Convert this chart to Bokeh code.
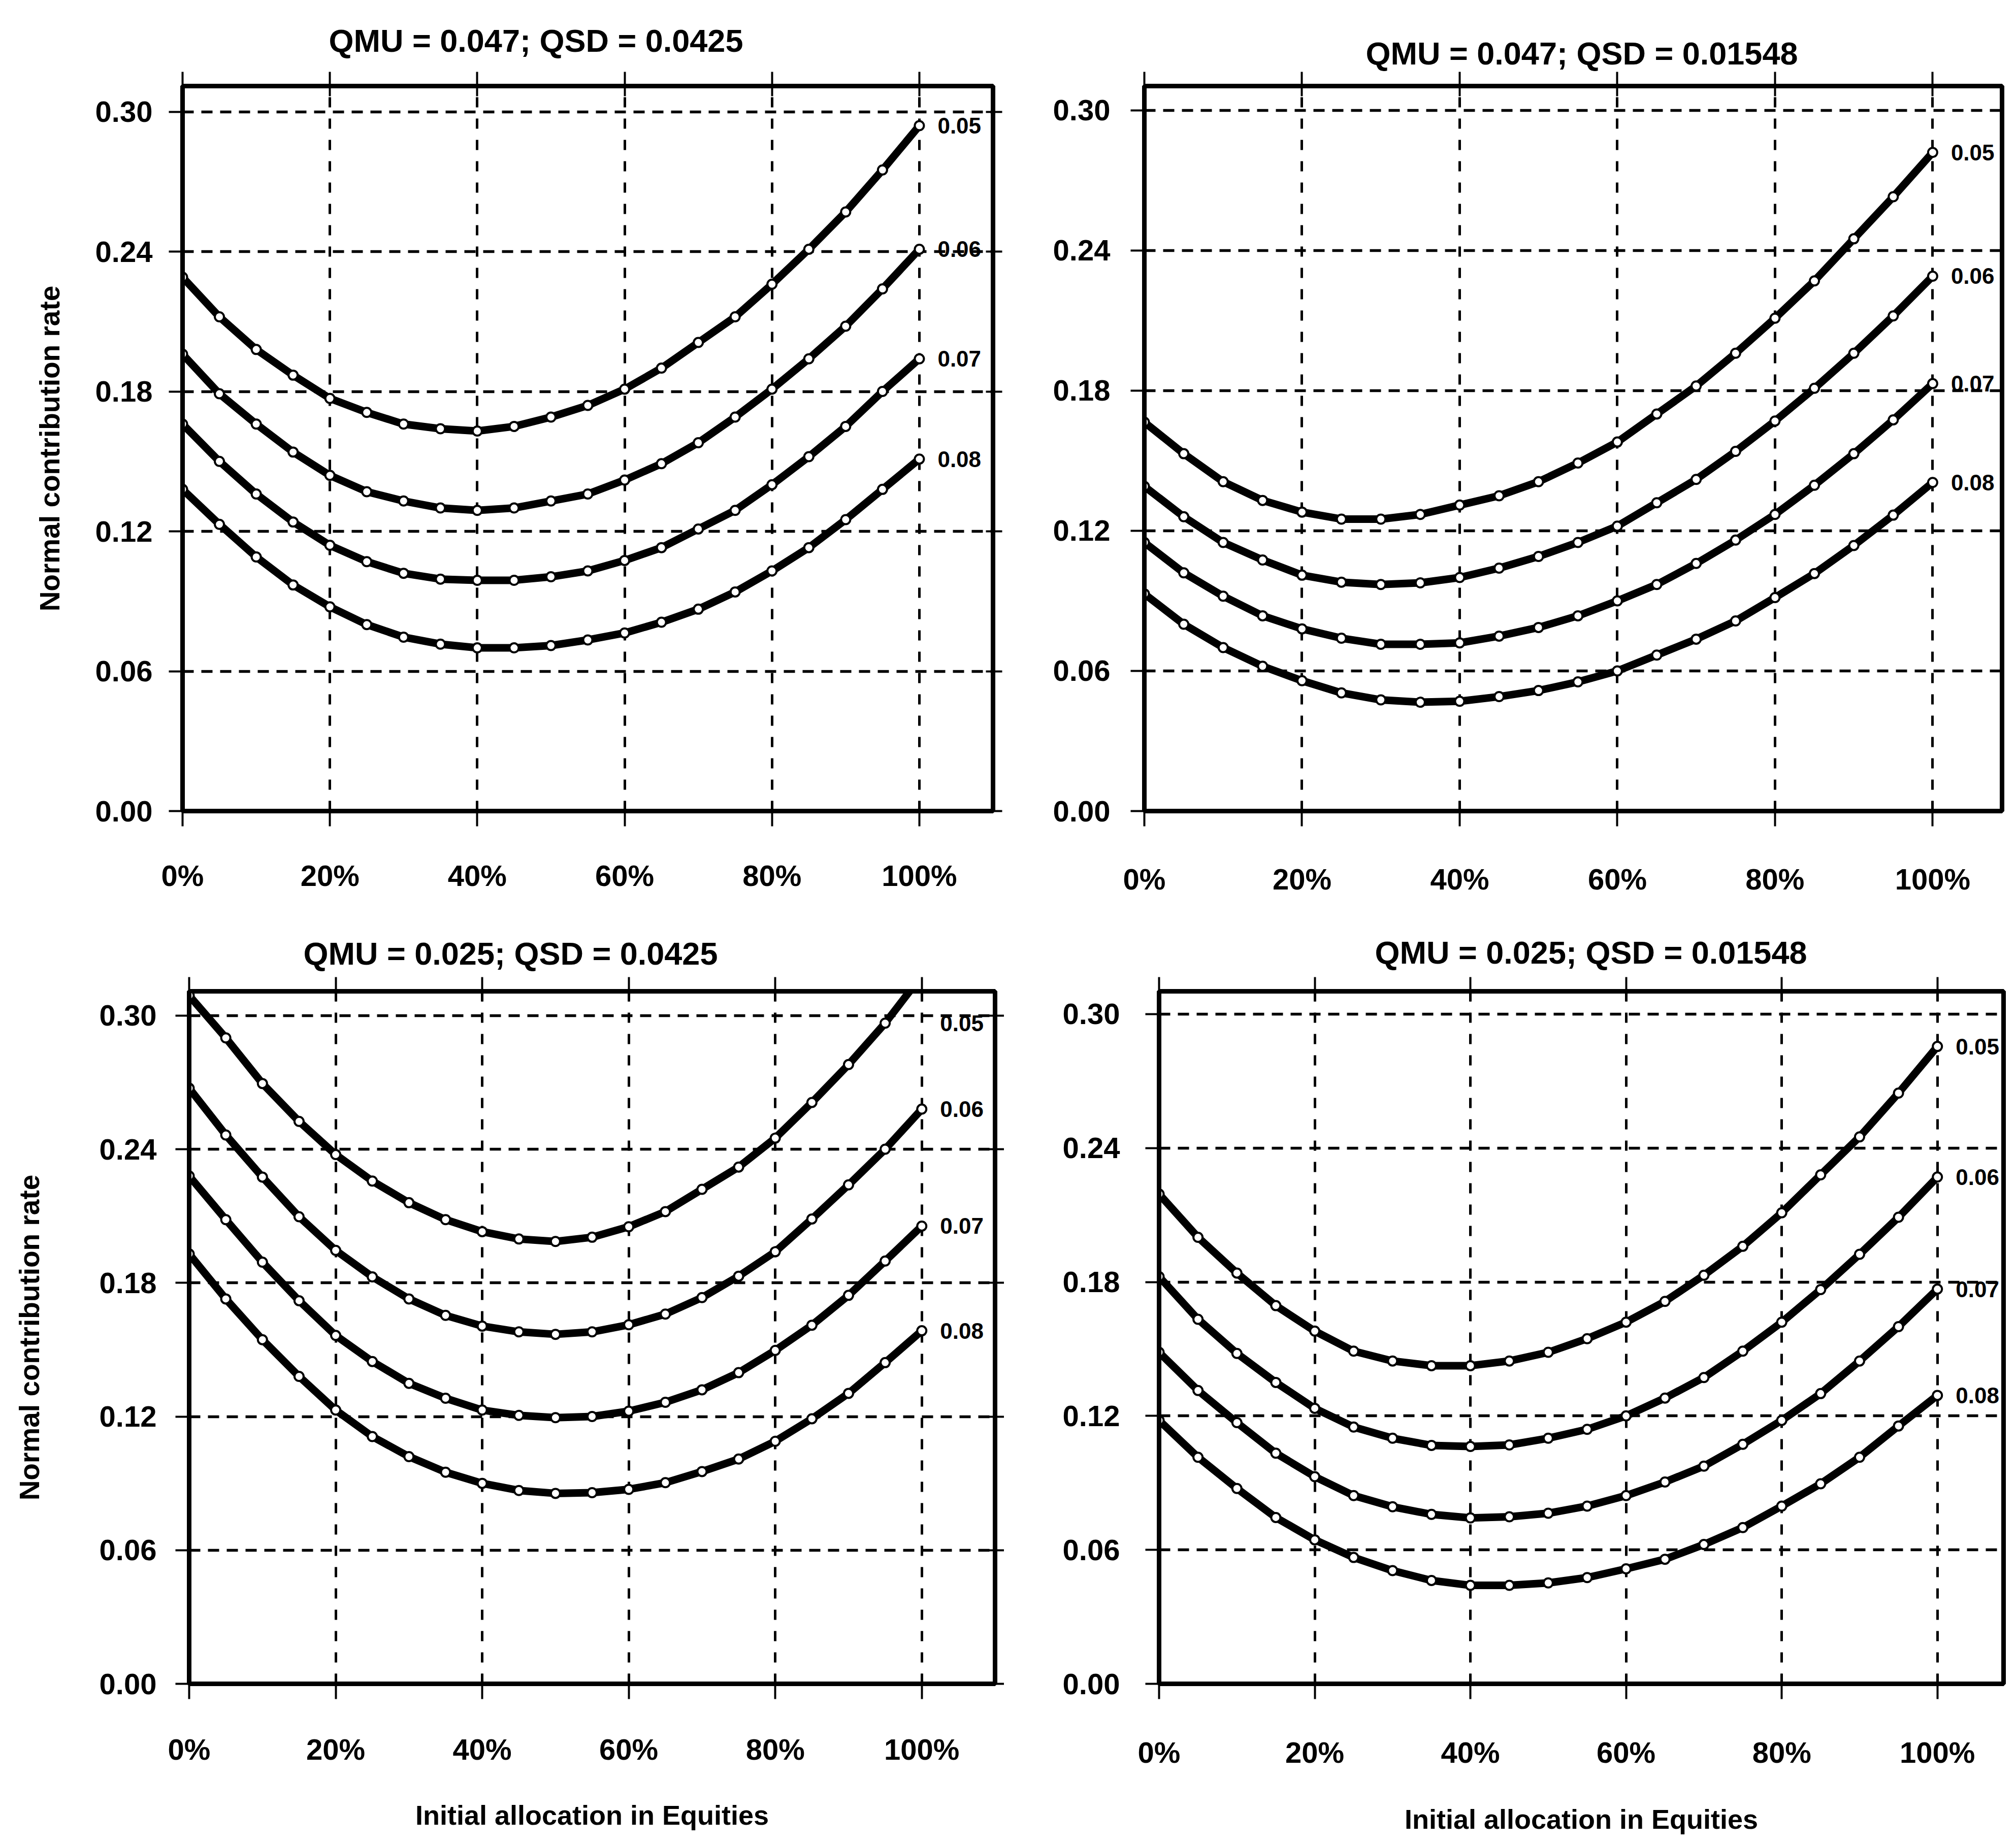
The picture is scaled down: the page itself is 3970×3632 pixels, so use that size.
from bokeh.plotting import figure
from bokeh.layouts import column, row
from bokeh.models import FixedTicker, LinearAxis, Range1d
from bokeh.core.properties import value
from bokeh.embed import file_html
from bokeh.resources import INLINE

# ---------------- data ----------------
x_alloc = [0, 5, 10, 15, 20, 25, 30, 35, 40, 45, 50, 55, 60, 65, 70, 75, 80, 85, 90, 95, 100]
x_ticks = [0, 20, 40, 60, 80, 100]
x_tick_labels = ["0%", "20%", "40%", "60%", "80%", "100%"]
y_ticks = [0.0, 0.06, 0.12, 0.18, 0.24, 0.30]
y_tick_labels = ["0.00", "0.06", "0.12", "0.18", "0.24", "0.30"]
rate_labels = ["0.05", "0.06", "0.07", "0.08"]

panel_titles = [
    "QMU = 0.047; QSD = 0.0425",
    "QMU = 0.047; QSD = 0.01548",
    "QMU = 0.025; QSD = 0.0425",
    "QMU = 0.025; QSD = 0.01548",
]
y_axis_title = "Normal contribution rate"
x_axis_title = "Initial allocation in Equities"

# QMU = 0.047; QSD = 0.0425
tl_r05 = [0.229, 0.212, 0.198, 0.187, 0.177, 0.171, 0.166, 0.164, 0.163, 0.165, 0.169, 0.174, 0.181, 0.190, 0.201, 0.212, 0.226, 0.241, 0.257, 0.275, 0.294]
tl_r06 = [0.196, 0.179, 0.166, 0.154, 0.144, 0.137, 0.133, 0.130, 0.129, 0.130, 0.133, 0.136, 0.142, 0.149, 0.158, 0.169, 0.181, 0.194, 0.208, 0.224, 0.241]
tl_r07 = [0.166, 0.150, 0.136, 0.124, 0.114, 0.107, 0.102, 0.0995, 0.099, 0.099, 0.1005, 0.103, 0.1075, 0.113, 0.121, 0.129, 0.140, 0.152, 0.165, 0.180, 0.194]
tl_r08 = [0.138, 0.123, 0.109, 0.097, 0.0876, 0.080, 0.0746, 0.0716, 0.070, 0.070, 0.071, 0.0734, 0.0764, 0.081, 0.0866, 0.094, 0.103, 0.113, 0.125, 0.138, 0.151]

# QMU = 0.047; QSD = 0.01548
tr_r05 = [0.1665, 0.153, 0.141, 0.133, 0.128, 0.125, 0.125, 0.127, 0.131, 0.135, 0.141, 0.149, 0.158, 0.170, 0.182, 0.196, 0.211, 0.227, 0.245, 0.263, 0.282]
tr_r06 = [0.139, 0.126, 0.115, 0.1075, 0.101, 0.098, 0.097, 0.0977, 0.100, 0.104, 0.109, 0.115, 0.122, 0.132, 0.142, 0.154, 0.167, 0.181, 0.196, 0.212, 0.229]
tr_r07 = [0.115, 0.102, 0.092, 0.0836, 0.078, 0.074, 0.0714, 0.0714, 0.072, 0.0749, 0.0786, 0.0836, 0.090, 0.097, 0.106, 0.116, 0.127, 0.1395, 0.153, 0.1675, 0.183]
tr_r08 = [0.093, 0.080, 0.070, 0.062, 0.0558, 0.0506, 0.0476, 0.0466, 0.047, 0.049, 0.0516, 0.0553, 0.060, 0.0668, 0.0736, 0.0814, 0.0914, 0.1017, 0.1137, 0.1267, 0.1407]

# QMU = 0.025; QSD = 0.0425
bl_r05 = [0.309, 0.290, 0.2695, 0.2525, 0.2376, 0.2257, 0.216, 0.2084, 0.203, 0.1997, 0.1986, 0.2005, 0.2052, 0.212, 0.222, 0.232, 0.245, 0.261, 0.278, 0.2966, 0.318]
bl_r06 = [0.2674, 0.2464, 0.2275, 0.2097, 0.1946, 0.1827, 0.1728, 0.1654, 0.1606, 0.158, 0.1569, 0.158, 0.1612, 0.166, 0.1734, 0.183, 0.194, 0.2087, 0.224, 0.240, 0.258]
bl_r07 = [0.228, 0.2084, 0.1893, 0.172, 0.1564, 0.1447, 0.1349, 0.1282, 0.1229, 0.1205, 0.1195, 0.120, 0.1224, 0.1264, 0.132, 0.1397, 0.1497, 0.161, 0.1744, 0.1898, 0.2055]
bl_r08 = [0.193, 0.1728, 0.1545, 0.138, 0.1229, 0.111, 0.102, 0.095, 0.090, 0.0868, 0.0855, 0.0858, 0.0873, 0.0903, 0.0953, 0.1009, 0.1089, 0.119, 0.1304, 0.1442, 0.1585]

# QMU = 0.025; QSD = 0.01548
br_r05 = [0.2194, 0.200, 0.184, 0.1694, 0.158, 0.149, 0.1446, 0.1425, 0.1425, 0.1446, 0.1485, 0.1546, 0.162, 0.1713, 0.183, 0.196, 0.211, 0.228, 0.245, 0.2646, 0.2855]
br_r06 = [0.1824, 0.1633, 0.148, 0.135, 0.1234, 0.115, 0.110, 0.1068, 0.1063, 0.107, 0.110, 0.114, 0.120, 0.128, 0.1372, 0.149, 0.162, 0.1766, 0.1924, 0.209, 0.227]
br_r07 = [0.1485, 0.1314, 0.117, 0.1033, 0.0928, 0.0843, 0.0793, 0.0759, 0.0743, 0.0748, 0.0764, 0.0796, 0.0843, 0.0904, 0.0975, 0.1073, 0.118, 0.130, 0.1446, 0.160, 0.1768]
br_r08 = [0.118, 0.1015, 0.0875, 0.0745, 0.0645, 0.0566, 0.0507, 0.0463, 0.0441, 0.0441, 0.0452, 0.0476, 0.0515, 0.0558, 0.0624, 0.070, 0.0796, 0.0896, 0.1015, 0.1155, 0.1292]

# ---------------- styling / layout ----------------
FONT = "Liberation Sans"
W, H = 1977, 1808

layouts = [
    dict(ml=359, mr=22, mt=162, mb=211, xmax=110.0, ymax=0.311, t_off=288, t_stand=53,
         ylab_stand=32, xlab_stand=64, ytitle=True, ytitle_stand=56, xtitle=False, right_ticks=True),
    dict(ml=276, mr=12, mt=169, mb=211, xmax=108.8, ymax=0.3104, t_off=436, t_stand=4,
         ylab_stand=40, xlab_stand=71, ytitle=False, ytitle_stand=0, xtitle=False, right_ticks=False),
    dict(ml=372, mr=18, mt=144, mb=292, xmax=110.0, ymax=0.3109, t_off=225, t_stand=23,
         ylab_stand=37, xlab_stand=66, ytitle=True, ytitle_stand=104, xtitle=True, xtitle_stand=64, right_ticks=True),
    dict(ml=305, mr=9, mt=134, mb=300, xmax=108.5, ymax=0.3102, t_off=425, t_stand=28,
         ylab_stand=50, xlab_stand=72, ytitle=False, ytitle_stand=0, xtitle=True, xtitle_stand=66, right_ticks=False),
]

panel_series = [
    [tl_r05, tl_r06, tl_r07, tl_r08],
    [tr_r05, tr_r06, tr_r07, tr_r08],
    [bl_r05, bl_r06, bl_r07, bl_r08],
    [br_r05, br_r06, br_r07, br_r08],
]


def style_ticks(ax, ticks, tick_out, tick_in):
    ax.ticker = FixedTicker(ticks=ticks)
    ax.major_tick_out = tick_out
    ax.major_tick_in = tick_in
    ax.major_tick_line_width = 4
    ax.major_tick_line_color = "black"
    ax.minor_tick_line_color = None


def make_panel(title, series, cfg):
    p = figure(width=W, height=H, output_backend="svg", toolbar_location=None,
               x_range=Range1d(0, cfg["xmax"]), y_range=Range1d(0, cfg["ymax"]),
               min_border_left=cfg["ml"], min_border_right=cfg["mr"],
               min_border_top=cfg["mt"], min_border_bottom=cfg["mb"],
               background_fill_color="white", border_fill_color="white")
    p.outline_line_color = "black"
    p.outline_line_width = 9
    p.outline_line_alpha = 1.0

    # title
    p.title.text = title
    p.title.align = "left"
    p.title.offset = cfg["t_off"]
    p.title.standoff = cfg["t_stand"]
    p.title.text_font = FONT
    p.title.text_font_size = "63px"
    p.title.text_font_style = "bold"
    p.title.text_color = "black"

    # bottom axis
    xa = p.xaxis[0]
    style_ticks(xa, x_ticks, 30, 20)
    xa.major_label_overrides = dict(zip(x_ticks, x_tick_labels))
    xa.axis_line_width = 9
    xa.major_label_text_font = FONT
    xa.major_label_text_font_size = "58px"
    xa.major_label_text_font_style = "bold"
    xa.major_label_text_color = "black"
    xa.major_label_standoff = cfg["xlab_stand"]
    if cfg["xtitle"]:
        xa.axis_label = x_axis_title
        xa.axis_label_text_font = FONT
        xa.axis_label_text_font_size = "54px"
        xa.axis_label_text_font_style = "bold"
        xa.axis_label_text_color = "black"
        xa.axis_label_standoff = cfg["xtitle_stand"]

    # left axis
    ya = p.yaxis[0]
    style_ticks(ya, y_ticks, 27, 14)
    ya.major_label_overrides = dict(zip(y_ticks, y_tick_labels))
    ya.axis_line_width = 9
    ya.major_label_text_font = FONT
    ya.major_label_text_font_size = "58px"
    ya.major_label_text_font_style = "bold"
    ya.major_label_text_color = "black"
    ya.major_label_standoff = cfg["ylab_stand"]
    if cfg["ytitle"]:
        ya.axis_label = y_axis_title
        ya.axis_label_text_font = FONT
        ya.axis_label_text_font_size = "55px"
        ya.axis_label_text_font_style = "bold"
        ya.axis_label_text_color = "black"
        ya.axis_label_standoff = cfg["ytitle_stand"]

    # top tick marks (no labels)
    ta = LinearAxis(axis_line_color=None, major_label_text_font_size="0px",
                    major_label_text_color=None, major_label_standoff=0)
    style_ticks(ta, x_ticks, 28, 20)
    p.add_layout(ta, "above")

    if cfg["right_ticks"]:
        ra = LinearAxis(axis_line_color=None, major_label_text_font_size="0px",
                        major_label_text_color=None, major_label_standoff=0)
        style_ticks(ra, y_ticks, 18, 14)
        p.add_layout(ra, "right")

    # grids
    p.xgrid.ticker = FixedTicker(ticks=x_ticks)
    p.xgrid.grid_line_color = "black"
    p.xgrid.grid_line_width = 5
    p.xgrid.grid_line_dash = "20 22"
    p.ygrid.ticker = FixedTicker(ticks=y_ticks)
    p.ygrid.grid_line_color = "black"
    p.ygrid.grid_line_width = 5.5
    p.ygrid.grid_line_dash = "22 15"

    # curves
    for s in series:
        p.line(x_alloc, s, line_width=15, line_color="black")
        p.scatter(x_alloc, s, size=18, fill_color="white", line_color="black", line_width=4)

    # rate labels next to last visible point of each curve
    lab_x, lab_y = [], []
    for s in series:
        visible = [(x, v) for x, v in zip(x_alloc, s) if v <= cfg["ymax"]]
        lab_x.append(x_alloc[-1])
        lab_y.append(visible[-1][1])
    p.text(x=lab_x, y=lab_y, text=rate_labels, x_offset=36,
           text_font=value(FONT), text_font_size="44px", text_font_style="bold",
           text_baseline="middle", text_align="left", text_color="black")
    return p


panels = [make_panel(t, s, c) for t, s, c in zip(panel_titles, panel_series, layouts)]
layout = column(row(panels[0], panels[1]), row(panels[2], panels[3]))

open("out.html", "w").write(file_html(layout, INLINE, "Normal contribution rate"))
